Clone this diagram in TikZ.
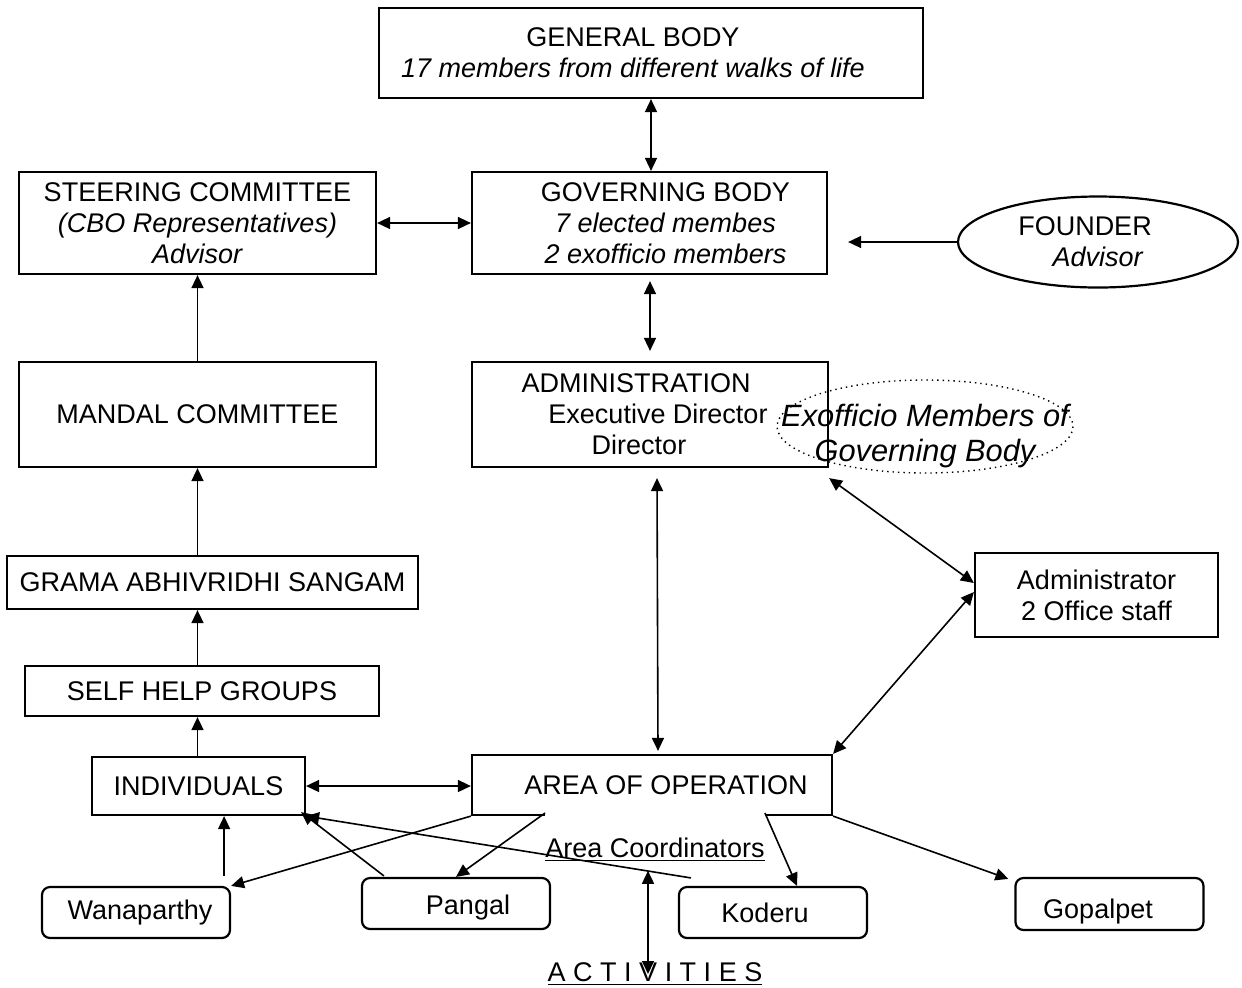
\documentclass[tikz,border=0pt]{standalone}
\usepackage{fontspec}
\setmainfont{Liberation Sans}
\usetikzlibrary{arrows.meta,shapes}
\tikzset{
	box/.style={
		rectangle,
		draw,
		line width=1.1pt,
		inner sep=0pt,
		align=center,
	},
	town/.style={
		box,
		rounded corners=4pt,
		minimum width=94pt,
		minimum height=25.5pt,
	},
	oval/.style={
		ellipse,
		draw,
		line width=1.1pt,
		inner sep=0pt,
		align=center,
	},
	link/.style={
		{Triangle[length=6.5pt,width=6pt]}-{Triangle[length=6.5pt,width=6pt]},
		line width=0.8pt,
	},
	arc/.style={
		-{Triangle[length=6.5pt,width=6pt]},
		line width=0.8pt,
	},
	caption/.style={
		inner sep=0pt,
	},
}
\begin{document}
\begin{tikzpicture}[x=0.5pt,y=-0.5pt,font=\fontsize{13.5}{15.5}\selectfont]
	\useasboundingbox (0,0) rectangle (1242,987);
	% top of the chart
	\node [box, minimum width=272pt, minimum height=45pt] (gen) at (651,53)
		{GENERAL BODY\hspace*{18pt}\\ \textit{17 members from different walks of life}\hspace*{18pt}};
	\node [box, minimum width=178.5pt, minimum height=51pt] (steer) at (197.5,223)
		{STEERING COMMITTEE\\ \textit{(CBO Representatives)}\\ \textit{Advisor}};
	\node [box, minimum width=177.5pt, minimum height=51pt] (gov) at (649.5,223)
		{\hspace*{16pt}GOVERNING BODY\\ \hspace*{16pt}\textit{7 elected membes}\\ \hspace*{16pt}\textit{2 exofficio members}};
	\node [oval, minimum width=140pt, minimum height=45.5pt] (founder) at (1098,242)
		{FOUNDER\hspace*{13pt}\\ \textit{Advisor}};
	\node [box, minimum width=178.5pt, minimum height=52.5pt] (mandal) at (197.5,414.5)
		{MANDAL COMMITTEE};
	\node [box, minimum width=178pt, minimum height=52.5pt] (admin) at (650,414.5)
		{ADMINISTRATION\hspace*{14pt}\\ \hspace*{8pt}Executive Director\\ Director\hspace*{11pt}};
	\node [caption, align=center, font=\fontsize{15.4}{17.5}\selectfont\itshape] (exo) at (925,436)
		{Exofficio Members of\\ Governing Body};
	\draw [dotted, line width=0.7pt] (925,426.5) ellipse [x radius=148, y radius=46.5];
	% left column
	\node [box, minimum width=205.5pt, minimum height=26.5pt] (grama) at (212.5,582.5)
		{GRAMA ABHIVRIDHI SANGAM};
	\node [box, minimum width=177pt, minimum height=25pt] (shg) at (202,691)
		{SELF HELP GROUPS};
	\node [box, minimum width=106.5pt, minimum height=29pt] (ind) at (198.5,786)
		{INDIVIDUALS};
	\node [box, minimum width=121.5pt, minimum height=42pt] (adm) at (1096.5,595)
		{Administrator\\ 2 Office staff};
	\node [box, minimum width=180pt, minimum height=30pt] (area) at (652,785)
		{\hspace*{14pt}AREA OF OPERATION};
	\node [caption, fill=white, text height=22pt, text depth=4pt,
		minimum width=104pt, anchor=north] (coord) at (655,813)
		{\underline{Area Coordinators}};
	% mandals
	\node [town] (wan) at (136,912.5) {\hspace*{4pt}Wanaparthy};
	\node [town, text height=13.8pt, text depth=2.8pt] (pan) at (456,903.5) {\hspace*{12pt}Pangal};
	\node [town] (kod) at (773,912.5) {Koderu\hspace*{8pt}};
	\node [town, minimum height=26pt, text height=16.8pt, text depth=2.8pt] (gop) at (1109.5,904)
		{Gopalpet\hspace*{11.5pt}};
	\node [caption] (act) at (655,974) {\underline{A C T I V I T I E S}};

	\draw [link] (gen.south) -- (gen.south |- gov.north);
	\draw [link] (steer) -- (gov);
	\draw [arc] (founder.west) -- ([xshift=10pt]founder.west -| gov.east);
	\draw [link] ([yshift=-3pt]gov.south -| admin.north) -- ([yshift=5pt]admin.north);
	\draw [arc] (mandal.north) -- (steer.south);
	\draw [arc] (grama.north -| mandal.south) -- (mandal.south);
	\draw [arc] (shg.north -| mandal.south) -- (grama.south -| mandal.south);
	\draw [arc] (ind.north -| mandal.south) -- (shg.south -| mandal.south);
	\draw [link] ([yshift=-5pt]admin.south east) -- ([yshift=6pt]adm.west);
	\draw [link] (area.north east) -- ([yshift=1.5pt]adm.west);
	\draw [link] ([xshift=3.5pt,yshift=-5pt]admin.south) -- ([xshift=3pt,yshift=1.5pt]area.north);
	\draw [link] (ind.east) -- (ind.east -| area.west);

	\draw [arc] (area.south west) -- (wan.north east);
	\draw [arc] (coord.north west) -- (pan.north);
	\draw [arc] (coord.north east) -- ([xshift=12pt]kod.north);
	\draw [arc] (area.south east) -- ([xshift=-3pt,yshift=-1pt]gop.north west);
	\draw [arc] ([xshift=-3.5pt,yshift=5pt]wan.north east) -- ([xshift=-3.5pt]wan.north east |- ind.south);
	\draw [arc] ([xshift=11.5pt,yshift=0.5pt]pan.north west) -- ([xshift=-2.5pt,yshift=2pt]ind.south east);
	\draw [arc] ([xshift=6.5pt,yshift=4pt]kod.north west) -- (ind.south east);
	\draw [link] ([xshift=-3.5pt,yshift=-2.5pt]coord.south) -- ([xshift=-3.5pt]act.center);
\end{tikzpicture}
\end{document}
